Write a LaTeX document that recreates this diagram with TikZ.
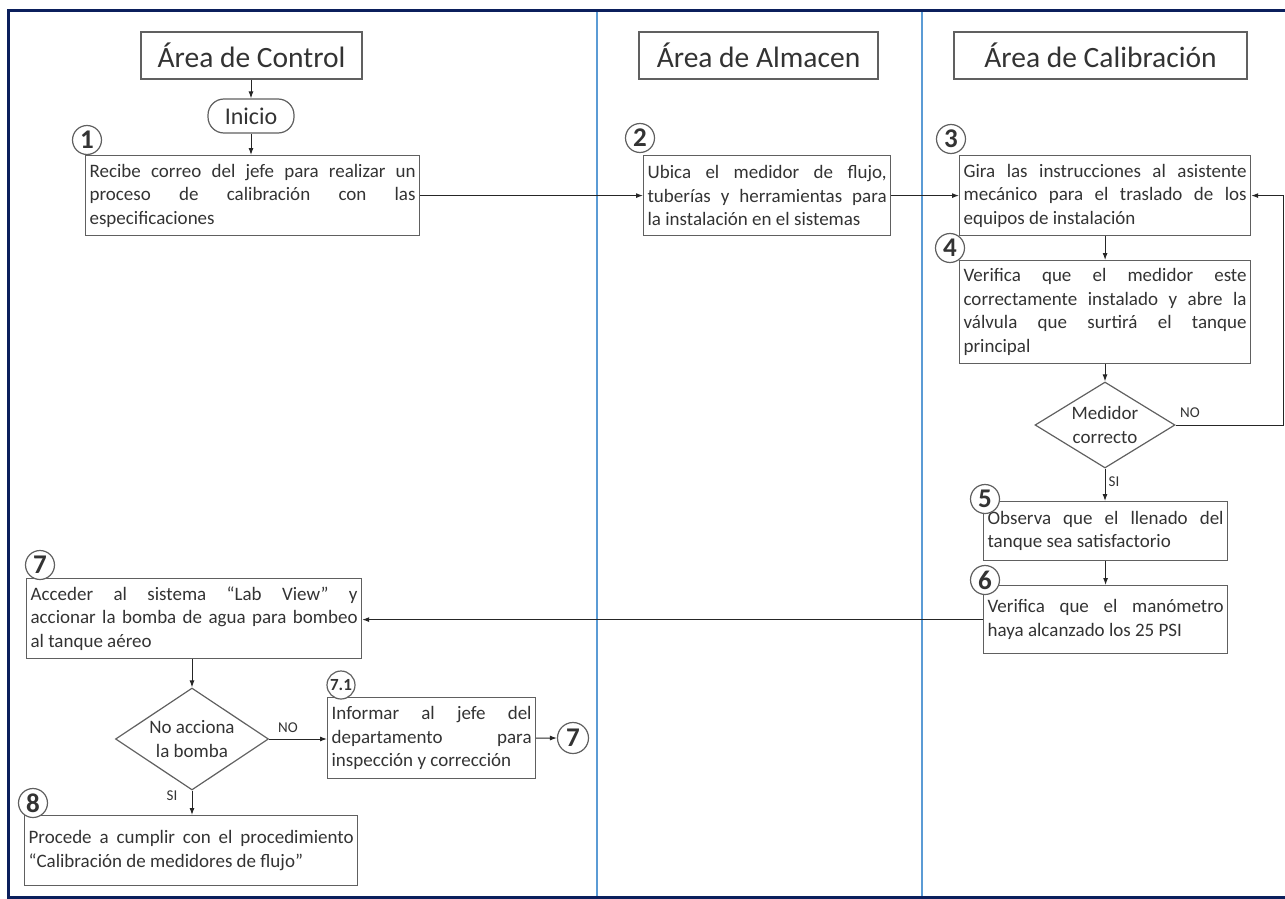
\documentclass[tikz,border=0pt]{standalone}
\usepackage{fontspec}
\setmainfont{Carlito}
\usetikzlibrary{shapes.geometric,arrows.meta}
\definecolor{framenavy}{HTML}{0B1F5C}
\definecolor{laneblue}{HTML}{5B9BD5}
\definecolor{boxgray}{HTML}{606060}
\definecolor{textgray}{HTML}{333333}
\hyphenpenalty=10000
\exhyphenpenalty=10000

\begin{document}
\begin{tikzpicture}[x=1pt,y=-1pt,
    every node/.style={text=textgray},
    areabox/.style={draw=boxgray,line width=1.2pt,inner sep=0pt,minimum height=47pt,font=\fontsize{29.5}{32}\selectfont},
    stepbox/.style={draw=boxgray,line width=1.2pt,anchor=north west,inner xsep=4pt,inner ysep=0pt,align=justify,font=\fontsize{19}{23.5}\selectfont},
    decision/.style={diamond,draw=boxgray,line width=1.2pt,inner sep=0pt,align=center,font=\fontsize{19}{24}\selectfont},
    stepnum/.style={circle,draw=boxgray,line width=1.2pt,fill=white,minimum size=29pt,inner sep=0pt,font=\bfseries\fontsize{27}{27}\selectfont},
    flow/.style={draw=black!85,line width=1pt,-{Latex[length=7pt,width=5pt]}},
    answer/.style={font=\fontsize{15}{15}\selectfont,inner sep=0pt}]
    \useasboundingbox (0,0) rectangle (1285,899);

    % Frame and lanes
    \draw [framenavy,line width=3.4pt] (1285,10.7) -- (8.3,10.7) -- (8.3,897.5) -- (1285,897.5);
    \draw [laneblue,line width=1.8pt] (597,12) -- (597,896);
    \draw [laneblue,line width=1.8pt] (922,12) -- (922,896);

    % Lane headers
    \node [areabox,minimum width=221pt] (hControl) at (251.5,55.5) {Área de Control};
    \node [areabox,minimum width=239pt] (hAlmacen) at (758.5,55.5) {Área de Almacen};
    \node [areabox,minimum width=293pt] (hCalib) at (1100.5,55.5) {Área de Calibración};

    % Start
    \node [draw=boxgray,line width=1.2pt,rounded corners=16pt,minimum width=86pt,minimum height=34pt,
        font=\fontsize{24}{24}\selectfont] (inicio) at (251,116) {Inicio};

    % Steps
    \node [stepbox,text width=326pt,minimum height=80pt] (b1) at (85,155)
        {Recibe correo del jefe para realizar un\linebreak proceso de calibración con las\linebreak especificaciones};
    \node [stepbox,text width=239pt,minimum height=80pt] (b2) at (643,155)
        {Ubica el medidor de flujo,\linebreak tuberías y herramientas para\linebreak la instalación en el sistemas};
    \node [stepbox,text width=283pt,minimum height=80pt] (b3) at (959,155)
        {Gira las instrucciones al asistente\linebreak mecánico para el traslado de los\linebreak equipos de instalación};
    \node [stepbox,text width=283pt,minimum height=103pt] (b4) at (959,260)
        {Verifica que el medidor este\linebreak correctamente instalado y abre la\linebreak válvula que surtirá el tanque\linebreak principal};
    \node [stepbox,text width=236pt,minimum height=59pt] (b5) at (983,501)
        {Observa que el llenado del\linebreak tanque sea satisfactorio};
    \node [stepbox,text width=236pt,minimum height=68pt] (b6) at (983,585)
        {Verifica que el manómetro\linebreak haya alcanzado los 25 PSI};
    \node [stepbox,text width=327pt,minimum height=80pt] (b7) at (26,578)
        {Acceder al sistema “Lab View” y\linebreak accionar la bomba de agua para bombeo\linebreak al tanque aéreo};
    \node [stepbox,text width=200pt,minimum height=81pt] (b71) at (327,697)
        {Informar al jefe del\linebreak departamento para\linebreak inspección y corrección};
    \node [stepbox,text width=325pt,minimum height=70pt] (b8) at (24,815)
        {Procede a cumplir con el procedimiento\linebreak “Calibración de medidores de flujo”};

    % Decisions
    \node [decision,aspect=1.63,minimum width=140pt,minimum height=86pt] (d1) at (1105,425) {Medidor\\correcto};
    \node [decision,aspect=1.5,minimum width=153pt,minimum height=102pt] (d2) at (192,739) {No acciona\\la bomba};

    % Step numbers
    \node [stepnum] (n1) at (87,140) {1};
    \node [stepnum] (n2) at (640,138) {2};
    \node [stepnum] (n3) at (951,139) {3};
    \node [stepnum] (n4) at (950,248) {4};
    \node [stepnum] (n5) at (985,499) {5};
    \node [stepnum] (n6) at (985,580) {6};
    \node [stepnum] (n7) at (40,565) {7};
    \node [stepnum,minimum size=28pt,font=\bfseries\fontsize{17}{17}\selectfont] (n71) at (341,685) {7.1};
    \node [stepnum] (n8) at (33,803) {8};
    \node [stepnum,minimum size=31pt] (n7back) at (573,738) {7};

    % Answers
    \node [answer] (no1) at (1190,413) {NO};
    \node [answer] (si1) at (1114,482) {SI};
    \node [answer] (no2) at (288,728) {NO};
    \node [answer] (si2) at (172,796) {SI};

    % Connectors
    \coordinate (loopEdge) at (1283,425);
    \draw [flow] (inicio.north |- hControl.south) -- (inicio.north);
    \draw [flow] (inicio.south) -- (inicio.south |- b1.north);
    \draw [flow] (b1.east) -- (b2.west);
    \draw [flow] (b2.east) -- (b3.west);
    \draw [flow] (b3.south) -- (b4.north);
    \draw [flow] (d1.north |- b4.south) -- (d1.north);
    \draw [flow] (d1.east) -- (loopEdge) |- (b3.east);
    \draw [flow] (d1.south) -- (d1.south |- b5.north);
    \draw [flow] (b5.south) -- (b6.north);
    \draw [flow] (b6.west) -- (b6.west -| b7.east);
    \draw [flow] (d2.north |- b7.south) -- (d2.north);
    \draw [flow] (d2.east) -- (d2.east -| b71.west);
    \draw [flow] (b71.east) -- (n7back.west);
    \draw [flow] (d2.south) -- (d2.south |- b8.north);
\end{tikzpicture}
\end{document}
